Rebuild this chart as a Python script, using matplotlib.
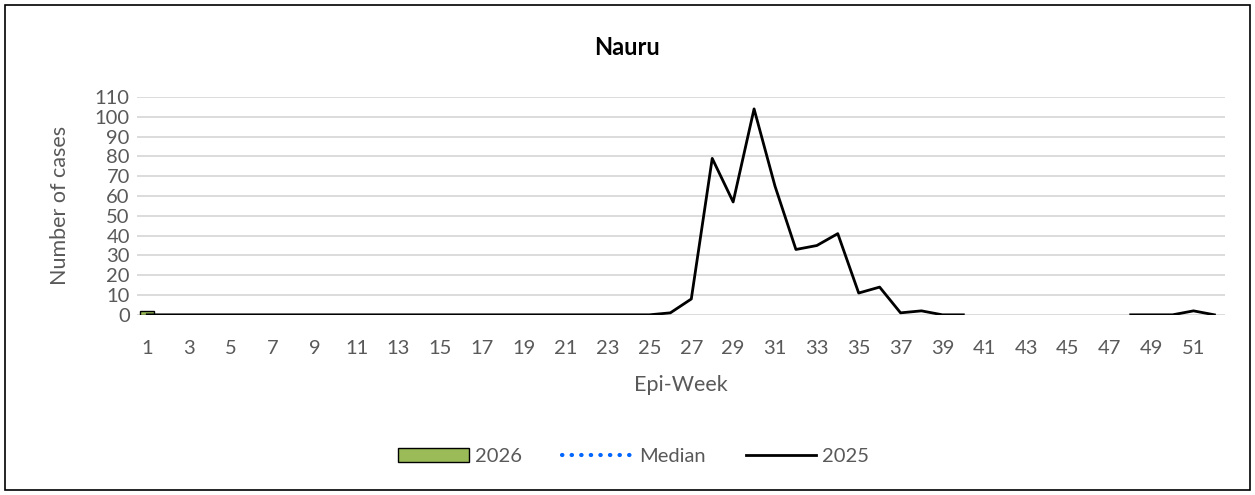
import numpy as np
import matplotlib.pyplot as plt
from matplotlib.patches import Rectangle

plt.rcParams['font.family'] = ['Lato', 'DejaVu Sans']

# dati
settimane = np.arange(1, 53)
casi_2026 = [2] + [np.nan] * 51
mediana = [np.nan] * 52
casi_2025 = ([0] * 25 +
             [1, 8, 79, 57, 104, 65, 33, 35, 41, 11, 14, 1, 2, 0, 0] +
             [np.nan] * 7 +
             [0, 0, 0, 2, 0])
etichette_x = [str(w) if w % 2 == 1 else '' for w in settimane]

grigio = '#595959'

fig = plt.figure(figsize=(12.55, 4.95), dpi=100)
ax = fig.add_axes([0.109, 0.364, 0.867, 0.44])

barre = ax.bar(settimane, casi_2026, width=0.65, color='#9BBB59', edgecolor='black',
               linewidth=1, label='2026', zorder=2)
linea_med, = ax.plot(settimane, mediana, color='#0066FF', linestyle=(0, (0.1, 2.2)),
                     dash_capstyle='round', linewidth=3, label='Median', zorder=3)
linea_2025, = ax.plot(settimane, casi_2025, color='black', linewidth=2, label='2025',
                      zorder=4)

ax.set_xlim(0.5, 52.5)
ax.set_ylim(0, 110)
ax.set_yticks(range(0, 111, 10))
ax.set_xticks(settimane)
ax.set_xticklabels(etichette_x)
ax.tick_params(axis='both', length=0, labelcolor=grigio, labelsize=14.5)
ax.tick_params(axis='x', pad=18)
ax.tick_params(axis='y', pad=5)
ax.grid(axis='y', color='#d9d9d9', linewidth=1.3, zorder=0)
ax.set_axisbelow(True)
for s in ax.spines.values():
    s.set_visible(False)

ax.set_xlabel('Epi-Week', fontsize=15.5, color=grigio, labelpad=13)
ax.set_ylabel('Number of cases', fontsize=15.5, color=grigio, labelpad=18)
fig.text(0.5, 0.905, 'Nauru', ha='center', va='center', fontsize=17,
         fontweight='bold', color='black')

leg = fig.legend([barre, linea_med, linea_2025], ['2026', 'Median', '2025'],
                 loc='center', bbox_to_anchor=(0.505, 0.078), ncol=3,
                 frameon=False, fontsize=14.5, handlelength=3.5,
                 columnspacing=2.0, handletextpad=0.3)
for t in leg.get_texts():
    t.set_color(grigio)

fig.patches.append(Rectangle((0.004, 0.01), 0.992, 0.98, transform=fig.transFigure,
                             fill=False, edgecolor='black', linewidth=1.2))

plt.savefig('out.png', dpi=100)
